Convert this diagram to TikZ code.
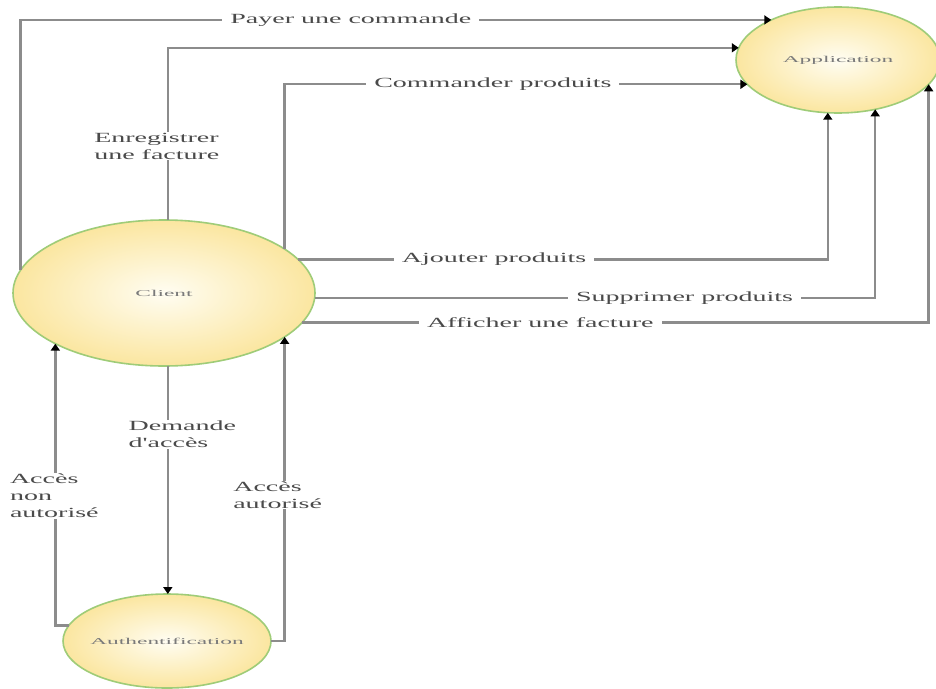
\documentclass[tikz,border=0pt]{standalone}
\usepackage{fontspec}
\setmainfont{Liberation Serif}
\newfontfamily\flowfont[FakeStretch=2.0]{Liberation Serif}
\newfontfamily\entityfont[FakeStretch=2.6]{Liberation Serif}
\usetikzlibrary{shapes.geometric, arrows.meta}
\definecolor{flowgray}{HTML}{8C8C8C}
\definecolor{entityfill}{HTML}{FBE6A0}
\definecolor{entitycentre}{HTML}{FFFDF2}
\definecolor{entityline}{HTML}{9FCC78}
\definecolor{labelgray}{HTML}{4A4A4A}
\definecolor{entitytext}{HTML}{7A7A7A}

\begin{document}
\begin{tikzpicture}[x = 1pt, y = -1pt, > = {Triangle[length=7pt, width=9pt, color=black]},
    entity/.style = {ellipse, draw=entityline, line width=1.6pt, inner color=entitycentre,
      outer color=entityfill, inner sep=0pt, outer sep=0pt},
    entitylabel/.style = {text=entitytext, font=\entityfont\fontsize{9}{11}\selectfont},
    flow/.style = {draw=flowgray, line width=2.4pt, ->},
    flowlabel/.style = {fill=white, text=labelgray, font=\flowfont\fontsize{14}{17}\selectfont,
      inner xsep=8pt, inner ysep=1pt, align=left}]
  \fill[white] (0,0) rectangle (936,688);
  \useasboundingbox (0,0) rectangle (936,688);

  % entities
  \node[entity, minimum width=302pt, minimum height=146pt,
    label={[entitylabel]center:Client}] (client) at (164,293) {};
  \node[entity, minimum width=204pt, minimum height=106pt,
    label={[entitylabel]center:Application}] (appli) at (838,60) {};
  \node[entity, minimum width=208pt, minimum height=94pt,
    label={[entitylabel]center:Authentification}] (auth) at (167,641) {};

  % flows towards the application
  \draw[flow] (client.171) |- (appli.149) node[flowlabel, pos=0.72] {Payer une commande};
  \draw[flow] (client.87) |- (appli.173) node[flowlabel, pos=0.215, xshift=-11pt] {Enregistrer\\une facture};
  \draw[flow] (client.20) |- (appli.195) node[flowlabel, pos=0.725] {Commander produits};
  \draw[flow] (client.14) -| (appli.259) node[flowlabel, pos=0.185] {Ajouter produits};
  \draw[flow] (client.358) -| (appli.307) node[flowlabel, pos=0.33] {Supprimer produits};
  \draw[flow] (client.348) -| (appli.345) node[flowlabel, pos=0.19] {Afficher une facture};

  % authentification
  \draw[flow] (client.273) -- (client.273 |- auth.north) node[flowlabel, pos=0.30, xshift=14.5pt] {Demande\\d'accès};
  \draw[flow] (auth.171) -| (client.205) node[flowlabel, pos=0.73, xshift=-1pt] {Accès\\non\\autorisé};
  \draw[flow] (auth.east) -| (client.340) node[flowlabel, pos=0.74, xshift=-7pt] {Accès\\autorisé};
\end{tikzpicture}
\end{document}
